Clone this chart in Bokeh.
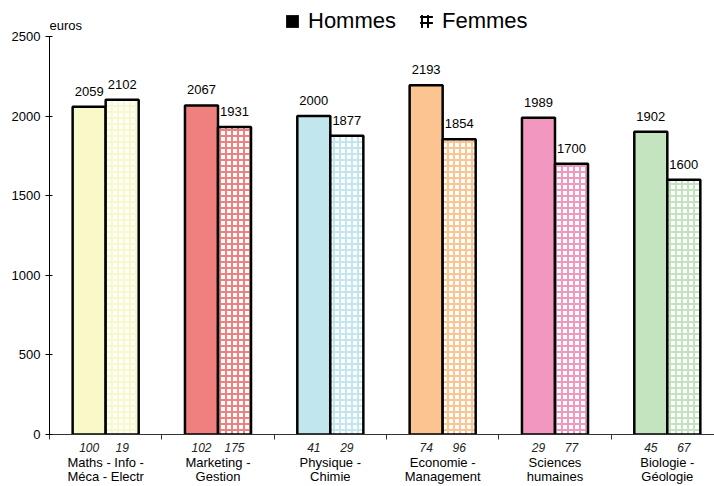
from bokeh.plotting import figure
from bokeh.models import (ColumnDataSource, LabelSet, Label, Legend, LegendItem,
                          FixedTicker, Range1d, LinearAxis)
from bokeh.core.properties import value
from bokeh.embed import file_html
from bokeh.resources import INLINE

categories = ["Maths - Info -\nMéca - Electr", "Marketing -\nGestion", "Physique -\nChimie",
              "Economie -\nManagement", "Sciences\nhumaines", "Biologie -\nGéologie"]
hommes = [2059, 2067, 2000, 2193, 1989, 1902]
femmes = [2102, 1931, 1877, 1854, 1700, 1600]
effectifs_hommes = [100, 102, 41, 74, 29, 45]
effectifs_femmes = [19, 175, 29, 96, 77, 67]
colors = ["#F8F8C8", "#F08080", "#C2E6EE", "#FCC490", "#F298C0", "#C4E4C0"]
y_ticks = [0, 500, 1000, 1500, 2000, 2500]

FONT = "Liberation Sans"
CW = 1000          # width of one category slot (x units)
BW = 294           # width of one bar
n = len(categories)
centers = [i * CW + CW // 2 for i in range(n)]
xh = [c - BW // 2 for c in centers]
xf = [c + BW // 2 for c in centers]
bounds = [i * CW for i in range(n)]

src_h = ColumnDataSource(dict(x=xh, top=hommes, color=colors,
                              lab=[str(v) for v in hommes]))
src_f = ColumnDataSource(dict(x=xf, top=femmes, color=colors,
                              lab=[str(v) for v in femmes]))

HATCH = dict(hatch_pattern="cross", hatch_scale=6, hatch_weight=2)

p = figure(width=714, height=486, output_backend="svg", toolbar_location=None,
           x_range=Range1d(0, 5920), y_range=Range1d(0, 2726),
           min_border_left=49, min_border_right=0, min_border_top=0, min_border_bottom=52,
           x_axis_location=None)
p.outline_line_color = None
p.xgrid.visible = False
p.ygrid.visible = False
p.background_fill_color = "white"
p.border_fill_color = "white"

p.vbar(x="x", top="top", width=BW, source=src_h, fill_color="color",
       line_color="black", line_width=2.5)
p.vbar(x="x", top="top", width=BW, source=src_f, fill_color="white",
       hatch_color="color", line_color="black", line_width=2.5, **HATCH)

# y axis
p.yaxis.ticker = FixedTicker(ticks=y_ticks)
p.yaxis.bounds = (0, 2500)
p.yaxis.major_tick_in = 3
p.yaxis.major_tick_out = 4
p.yaxis.minor_tick_line_color = None
p.yaxis.axis_line_color = "black"
p.yaxis.major_label_text_font = FONT
p.yaxis.major_label_text_font_size = "13px"
p.yaxis.major_label_text_color = "black"
p.yaxis.major_label_standoff = 5

# x axis: boundary tick marks + head-count labels under each bar
count_ticks = []
count_labels = {}
for i in range(n):
    count_ticks += [xh[i], xf[i]]
    count_labels[xh[i]] = str(effectifs_hommes[i])
    count_labels[xf[i]] = str(effectifs_femmes[i])
ax1 = LinearAxis(ticker=FixedTicker(ticks=count_ticks, minor_ticks=bounds),
                 major_label_overrides=count_labels,
                 axis_line_color="#333333", major_tick_line_color=None,
                 major_tick_in=0, major_tick_out=0,
                 minor_tick_line_color="#333333", minor_tick_in=0, minor_tick_out=5,
                 major_label_standoff=3, major_label_text_font=FONT,
                 major_label_text_font_style="italic", major_label_text_font_size="12px",
                 major_label_text_color="#222222")
p.add_layout(ax1, "below")

# category names
name_labels = {centers[i]: categories[i] for i in range(n)}
ax2 = LinearAxis(ticker=FixedTicker(ticks=centers), major_label_overrides=name_labels,
                 axis_line_color=None, major_tick_line_color=None, minor_tick_line_color=None,
                 major_tick_in=0, major_tick_out=0, major_label_standoff=0,
                 major_label_text_font=FONT, major_label_text_font_size="13px",
                 major_label_text_color="black", major_label_text_line_height=0.95)
p.add_layout(ax2, "below")

# value labels
for s in (src_h, src_f):
    p.add_layout(LabelSet(x="x", y="top", text="lab", source=s, text_align="center",
                          text_baseline="alphabetic", y_offset=11, text_font=value(FONT),
                          text_font_size="13px", text_color="black"))

p.add_layout(Label(x=0, y=2500, text="euros", text_font=FONT, text_font_size="13px",
                   text_baseline="alphabetic", y_offset=11, text_color="black"))

# legend (zero-width bars: only their legend swatches show)
r_h = p.vbar(x=xh, top=hommes, width=0, fill_color="black", line_color=None)
r_f = p.vbar(x=xf, top=femmes, width=0, fill_color="white", line_color=None,
             hatch_color="black", **HATCH)
legend = Legend(items=[LegendItem(label="Hommes", renderers=[r_h]),
                       LegendItem(label="Femmes", renderers=[r_f])],
                orientation="horizontal", location=(235, 400),
                label_text_font=FONT, label_text_font_size="22px", label_text_color="black",
                glyph_width=16, glyph_height=16, label_standoff=8, spacing=22,
                padding=0, margin=0, border_line_color=None,
                background_fill_alpha=0)
p.add_layout(legend)

open("out.html", "w").write(file_html(p, INLINE))
